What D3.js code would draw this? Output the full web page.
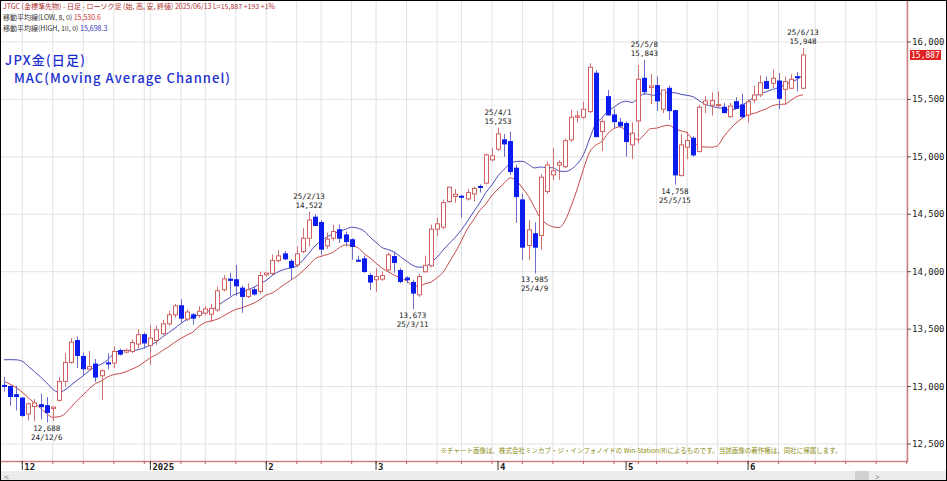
<!DOCTYPE html>
<html><head><meta charset="utf-8">
<script src="https://cdn.jsdelivr.net/npm/d3@7"></script>
<style>body{margin:0;background:#fff}svg{display:block}</style>
</head><body>
<script>
const dates=["24/11/27","24/11/28","24/11/29",
"24/12/2","24/12/3","24/12/4","24/12/5","24/12/6","24/12/9","24/12/10","24/12/11","24/12/12","24/12/13","24/12/16","24/12/17","24/12/18","24/12/19","24/12/20","24/12/23","24/12/24","24/12/25","24/12/26","24/12/27","24/12/30",
"25/1/6","25/1/7","25/1/8","25/1/9","25/1/10","25/1/14","25/1/15","25/1/16","25/1/17","25/1/20","25/1/21","25/1/22","25/1/23","25/1/24","25/1/27","25/1/28","25/1/29","25/1/30","25/1/31",
"25/2/3","25/2/4","25/2/5","25/2/6","25/2/7","25/2/10","25/2/12","25/2/13","25/2/14","25/2/17","25/2/18","25/2/19","25/2/20","25/2/21","25/2/25","25/2/26","25/2/27","25/2/28",
"25/3/3","25/3/4","25/3/5","25/3/6","25/3/7","25/3/10","25/3/11","25/3/12","25/3/13","25/3/14","25/3/17","25/3/18","25/3/19","25/3/21","25/3/24","25/3/25","25/3/26","25/3/27","25/3/28","25/3/31",
"25/4/1","25/4/2","25/4/3","25/4/4","25/4/7","25/4/8","25/4/9","25/4/10","25/4/11","25/4/14","25/4/15","25/4/16","25/4/17","25/4/18","25/4/21","25/4/22","25/4/23","25/4/24","25/4/25","25/4/28","25/4/30",
"25/5/1","25/5/2","25/5/7","25/5/8","25/5/9","25/5/12","25/5/13","25/5/14","25/5/15","25/5/16","25/5/19","25/5/20","25/5/21","25/5/22","25/5/23","25/5/26","25/5/27","25/5/28","25/5/29","25/5/30",
"25/6/2","25/6/3","25/6/4","25/6/5","25/6/6","25/6/9","25/6/10","25/6/11","25/6/12","25/6/13"];
const opens=[13010,13001,12929,12900,12761,12827,12842,12833,12810,12880,13045,13210,13401,13262,13152,13196,13094,13206,13205,13312,13300,13305,13370,13452,13358,13401,13460,13546,13625,13703,13588,13625,13620,13640,13630,13668,13843,13935,13930,13857,13785,13843,13828,13973,13984,14097,14155,14090,14060,14176,14292,14475,14428,14225,14292,14365,14320,14278,14100,14112,13967,13930,13935,14016,14132,14010,13945,13906,13799,14000,14051,14370,14388,14611,14655,14657,14634,14677,14742,14771,14974,15067,15148,15133,14901,14625,14228,14330,14315,14698,14843,14928,14915,15148,15345,15345,15394,15728,15220,15524,15365,15301,15290,15104,15313,15684,15603,15620,15415,15597,15402,14837,15084,15162,15046,15458,15450,15450,15432,15350,15480,15452,15365,15496,15540,15655,15641,15660,15588,15597,15698,15597];
const highs=[13083,13010,13007,12905,12860,12891,12938,12909,12820,13083,13292,13422,13436,13294,13310,13240,13150,13290,13350,13330,13330,13410,13500,13470,13538,13530,13580,13660,13720,13760,13670,13640,13700,13700,13720,13870,13970,13990,14060,13880,13900,13870,14000,13990,14150,14190,14180,14110,14220,14380,14522,14500,14450,14340,14410,14410,14350,14290,14140,14140,13990,14030,14000,14165,14175,14030,13960,13930,13980,14140,14410,14470,14630,14740,14720,14670,14720,14740,14760,15030,15080,15253,15200,15220,14930,14680,14450,14430,14850,14960,15078,14970,15160,15410,15400,15480,15815,15756,15330,15582,15420,15340,15310,15300,15800,15843,15720,15700,15540,15620,15410,15200,15220,15180,15450,15530,15560,15570,15470,15470,15520,15550,15500,15620,15710,15700,15760,15730,15700,15720,15740,15948];
const lows=[12958,12833,12792,12735,12705,12697,12712,12688,12700,12870,13000,13200,13161,13100,13140,13040,12885,13150,13160,13270,13290,13290,13330,13330,13190,13364,13450,13530,13600,13560,13570,13538,13600,13620,13560,13650,13830,13790,13790,13642,13770,13790,13810,13960,13970,14080,14100,13930,14040,14160,14220,14400,14147,14200,14270,14250,14220,14103,14090,13990,13842,13825,13920,14000,13990,13900,13900,13673,13780,13990,14040,14310,14370,14600,14600,14470,14620,14610,14690,14760,14960,15050,15000,14843,14425,14103,14100,13985,14190,14680,14800,14800,14900,15130,15300,15330,15380,15170,15050,15360,15250,15250,15002,14980,15121,15540,15460,15400,15380,15320,14758,14830,14980,15000,15040,15380,15360,15430,15380,15340,15420,15330,15300,15470,15520,15590,15600,15415,15450,15590,15570,15590];
const closes=[13005,12914,12914,12749,12850,12857,12825,12775,12822,13045,13210,13387,13271,13155,13175,13083,13138,13200,13306,13283,13315,13384,13452,13380,13422,13494,13546,13625,13703,13596,13649,13596,13655,13675,13680,13834,13938,13925,13877,13785,13843,13806,13967,13988,14097,14138,14112,14037,14155,14292,14450,14402,14197,14283,14350,14292,14262,14220,14095,14002,13910,13958,13967,14147,14080,13915,13930,13814,13958,14055,14370,14417,14602,14736,14675,14650,14690,14724,14738,15017,15009,15200,15113,14872,14654,14214,14365,14214,14823,14930,14878,14950,15141,15345,15356,15415,15780,15176,15307,15365,15307,15270,15133,15206,15676,15568,15617,15487,15582,15402,14843,15104,15142,15017,15432,15487,15490,15455,15385,15443,15423,15350,15480,15539,15646,15597,15684,15510,15655,15675,15690,15887];
// estimated history before the visible window (for moving-average warm-up)
const priorHighs=[13000,13020,13040,13300,13350,13400,13420,13380,13340];
const priorLows=[13020,13040,13060,13080,13070,13070,13060];
const yTicks=[12500,13000,13500,14000,14500,15000,15500,16000];
const monthLabels=[{d:"24/12/2",t:"12"},{d:"25/1/6",t:"2025"},{d:"25/2/3",t:"2"},{d:"25/3/3",t:"3"},{d:"25/4/1",t:"4"},{d:"25/5/1",t:"5"},{d:"25/6/2",t:"6"}];
const notes=[
 {d:"24/12/6",v:12688,lines:["12,688","24/12/6"],pos:"below"},
 {d:"25/2/13",v:14522,lines:["25/2/13","14,522"],pos:"above"},
 {d:"25/3/11",v:13673,lines:["13,673","25/3/11"],pos:"below"},
 {d:"25/4/1",v:15253,lines:["25/4/1","15,253"],pos:"above"},
 {d:"25/4/9",v:13985,lines:["13,985","25/4/9"],pos:"below"},
 {d:"25/5/8",v:15843,lines:["25/5/8","15,843"],pos:"above"},
 {d:"25/5/15",v:14758,lines:["14,758","25/5/15"],pos:"below"},
 {d:"25/6/13",v:15948,lines:["25/6/13","15,948"],pos:"above"}];

const W=947,H=481;
const svg=d3.select("body").append("svg").attr("width",W).attr("height",H);
const x=d3.scaleLinear().domain([0,dates.length-1]).range([4,803]);
const y=d3.scaleLinear().domain([12500,16000]).range([444,42]);
const idx=d=>dates.indexOf(d);
const mono="'DejaVu Sans Mono','Liberation Mono',monospace";

// grid
const g=svg.append("g");
g.selectAll(".hg").data(yTicks).join("line").attr("x1",0).attr("x2",907).attr("y1",d=>y(d)).attr("y2",d=>y(d)).attr("stroke","#e2e2e2");
const weekStarts=[];
dates.forEach((d,i)=>{ if(i>0){const a=new Date("20"+dates[i-1]),b=new Date("20"+d); if(b.getDay()<=a.getDay()||(b-a)>3*864e5&&b.getDay()!==a.getDay()+1) weekStarts.push(i);} });
const gridIdx=weekStarts.concat([133,138,143,148]);
g.selectAll(".vg").data(gridIdx).join("line").attr("x1",d=>x(d)).attr("x2",d=>x(d)).attr("y1",0).attr("y2",461).attr("stroke","#e2e2e2");

// header text
const hd=svg.append("g").attr("font-family","'Noto Sans CJK JP',sans-serif").attr("font-size",7);
hd.append("text").attr("x",3).attr("y",9).attr("fill","#b03030").text("JTGC (金標準先物) - 日足 - ローソク足 (始, 高, 安, 終値)    2025/06/13 L=15,887 +193  +1%");
const h2=hd.append("text").attr("x",3).attr("y",20).attr("fill","#333").text("移動平均線(LOW, 8, 0) ");
h2.append("tspan").attr("fill","#d03030").text("15,530.6");
const h3=hd.append("text").attr("x",3).attr("y",31).attr("fill","#333").text("移動平均線(HIGH, 10, 0) ");
h3.append("tspan").attr("fill","#3030c0").text("15,698.3");

svg.append("text").attr("x",5).attr("y",65).attr("fill","#1a2fd0").attr("font-family","'Noto Sans CJK JP',sans-serif").attr("font-size",13).attr("font-weight",500).attr("textLength",80).text("JPX金(日足)");
svg.append("text").attr("x",14).attr("y",83).attr("fill","#1a2fd0").attr("font-family","'Noto Sans CJK JP',sans-serif").attr("font-size",13).attr("font-weight",500).attr("textLength",216).text("MAC(Moving Average Channel)");

// moving averages
const allH=priorHighs.concat(highs), allL=priorLows.concat(lows);
const maH=highs.map((_,i)=>d3.mean(allH.slice(i,i+10)));
const maL=lows.map((_,i)=>d3.mean(allL.slice(i,i+8)));
const line=d3.line().x((d,i)=>x(i)).y(d=>y(d)).curve(d3.curveMonotoneX);
svg.append("path").attr("d",line(maH)).attr("fill","none").attr("stroke","#4a4ab8").attr("stroke-width",1);
svg.append("path").attr("d",line(maL)).attr("fill","none").attr("stroke","#c84848").attr("stroke-width",1);

// candles
const cs=svg.append("g");
dates.forEach((d,i)=>{
  const o=opens[i],c=closes[i],up=c>=o;
  const cx=Math.round(x(i))+0.5;
  cs.append("line").attr("x1",cx).attr("x2",cx).attr("y1",y(highs[i])).attr("y2",y(lows[i])).attr("stroke",up?"#d07070":"#6a6ad0");
  const top=y(Math.max(o,c)),bot=y(Math.min(o,c));
  cs.append("rect").attr("x",cx-2).attr("width",4).attr("y",top).attr("height",Math.max(1,bot-top))
    .attr("fill",up?"#fff":"#0a1cf0").attr("stroke",up?"#d06060":"#0a1cf0").attr("stroke-width",1);
});

// annotations
const an=svg.append("g").attr("font-family",mono).attr("font-size",7.5).attr("fill","#222").attr("text-anchor","middle");
notes.forEach(n=>{
  const cx=x(idx(n.d)), py=y(n.v);
  n.lines.forEach((t,k)=>{
    const yy=n.pos==="above"? py-13+k*9 : py+9+k*9;
    an.append("text").attr("x",cx).attr("y",yy).text(t);
  });
});

// right axis
svg.append("line").attr("x1",907.5).attr("x2",907.5).attr("y1",0).attr("y2",462).attr("stroke","#d08080").attr("stroke-width",1.5);
const ra=svg.append("g").attr("font-family",mono).attr("font-size",9).attr("fill","#222");
yTicks.forEach(v=>{
  ra.append("line").attr("x1",907).attr("x2",911).attr("y1",y(v)).attr("y2",y(v)).attr("stroke","#555");
  ra.append("text").attr("x",912).attr("y",y(v)+3).text(d3.format(",")(v));
});
const last=closes[closes.length-1];
svg.append("rect").attr("x",910).attr("y",y(last)-5).attr("width",31).attr("height",10).attr("fill","#e02020");
svg.append("text").attr("x",911).attr("y",y(last)+3).attr("fill","#fff").attr("font-family",mono).attr("font-size",8).text(d3.format(",")(last));

// bottom axis
svg.append("line").attr("x1",0).attr("x2",908).attr("y1",461.5).attr("y2",461.5).attr("stroke","#d08080").attr("stroke-width",1.5);
svg.selectAll(".bt").data(gridIdx).join("line").attr("x1",d=>x(d)).attr("x2",d=>x(d)).attr("y1",461).attr("y2",464).attr("stroke","#c06060");
monthLabels.forEach(m=>{
  const xx=x(idx(m.d));
  svg.append("line").attr("x1",xx).attr("x2",xx).attr("y1",461).attr("y2",470).attr("stroke","#333");
  svg.append("text").attr("x",xx+2).attr("y",470).attr("font-family",mono).attr("font-size",9).attr("font-weight","bold").attr("fill","#222").text(m.t);
});
svg.append("rect").attr("x",0).attr("y",471).attr("width",W).attr("height",10).attr("fill","#ececec");
svg.append("text").attr("x",4).attr("y",480).attr("font-size",9).attr("fill","#333").text("<");
svg.append("rect").attr("x",855).attr("y",471).attr("width",14).attr("height",9).attr("fill","#d0d0d0");
svg.append("text").attr("x",875).attr("y",480).attr("font-size",8).attr("fill","#333").text(">");

// footnote
svg.append("text").attr("x",641).attr("y",453).attr("text-anchor","middle").attr("font-family","'Noto Sans CJK JP',sans-serif").attr("font-size",6.5).attr("fill","#8c8c10")
 .text("※チャート画像は、株式会社ミンカブ・ジ・インフォノイドの Win-Station(R)によるものです。当該画像の著作権は、同社に帰属します。");

// frame
svg.append("rect").attr("x",0.5).attr("y",0.5).attr("width",W-1).attr("height",H-1).attr("fill","none").attr("stroke","#000");
</script>
</body></html>
